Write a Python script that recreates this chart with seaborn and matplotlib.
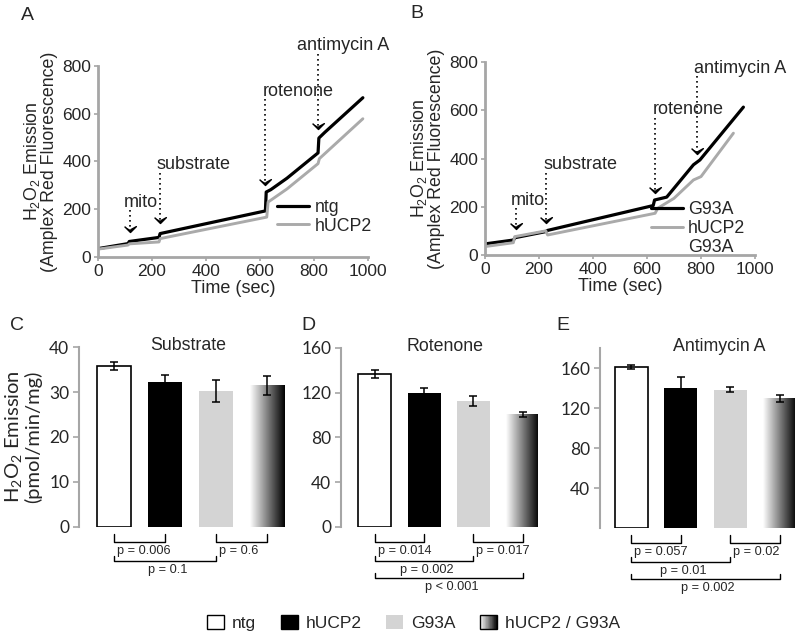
import numpy as np
import matplotlib
matplotlib.use("Agg")
import matplotlib.pyplot as plt
import seaborn as sns
from matplotlib.patches import Patch, Rectangle
from matplotlib.lines import Line2D
from matplotlib.legend_handler import HandlerBase
from matplotlib import transforms

# ---- panel A traces (time in sec, Amplex Red fluorescence) ----
a_time_ntg = [0, 111, 116, 226, 230, 620, 623, 640, 700, 815, 818, 840, 981]
a_ntg = [35, 56, 65, 82, 98, 193, 272, 282, 330, 436, 498, 522, 667]
a_time_ucp = [0, 111, 116, 226, 230, 625, 630, 700, 815, 820, 981]
a_ucp = [33, 50, 55, 63, 77, 167, 230, 285, 391, 412, 579]

# ---- panel B traces ----
b_time_g93a = [0, 105, 112, 225, 232, 623, 628, 673, 772, 796, 957]
b_g93a = [46, 62, 72, 97, 102, 205, 228, 240, 374, 394, 613]
b_time_ucp_g93a = [0, 105, 110, 225, 232, 630, 640, 700, 772, 800, 920]
b_ucp_g93a = [35, 51, 76, 100, 83, 173, 194, 235, 311, 325, 505]

# additions (label, time of addition, arrow tip level)
events = ["mito", "substrate", "rotenone", "antimycin A"]
a_event_time = [117, 228, 620, 815]
a_event_tip = [105, 142, 300, 537]
a_label_pos = [(159, 230), (353, 387), (743, 695), (907, 886)]
b_event_time = [114, 225, 631, 786]
b_event_tip = [107, 131, 256, 419]
b_label_pos = [(158, 228), (352, 374), (754, 602), (944, 775)]

# ---- bar panels C-E (pmol/min/mg) ----
groups = ["ntg", "hUCP2", "G93A", "hUCP2 / G93A"]
substrate_mean = [35.7, 32.3, 30.2, 31.4]
substrate_err = [0.9, 1.5, 2.4, 2.1]
rotenone_mean = [136.5, 119.5, 113.0, 100.5]
rotenone_err = [3.5, 5.0, 4.5, 2.5]
antimycin_mean = [161.5, 140.3, 138.5, 129.5]
antimycin_err = [2.0, 11.0, 2.3, 3.6]

substrate_p = [(0, 1, "p = 0.006"), (2, 3, "p = 0.6"), (0, 2, "p = 0.1")]
rotenone_p = [(0, 1, "p = 0.014"), (2, 3, "p = 0.017"), (0, 2, "p = 0.002"), (0, 3, "p < 0.001")]
antimycin_p = [(0, 1, "p = 0.057"), (2, 3, "p = 0.02"), (0, 2, "p = 0.01"), (0, 3, "p = 0.002")]

sns.set_theme(style="ticks")
plt.rcParams["font.family"] = ["Liberation Sans", "DejaVu Sans"]
plt.rcParams["mathtext.default"] = "regular"

SPINE = "#a6a6a6"
LIGHT = "#d4d4d4"
TRACE_GRAY = "#aaaaaa"

fig = plt.figure(figsize=(8, 6.38), dpi=100)

chevron = [(-1, 1), (0, 0), (1, 1), (0, 0.45)]


def line_panel(rect, t1, v1, t2, v2, lab1, lab2, ev_t, ev_tip, lab_pos, letter, letter_xy, extra_label=None, leg_anchor=(1.04, 0.08)):
    ax = fig.add_axes(rect)
    sns.lineplot(x=t1, y=v1, color="black", lw=2.3, sort=False, estimator=None, ax=ax, label=lab1)
    sns.lineplot(x=t2, y=v2, color=TRACE_GRAY, lw=2.1, sort=False, estimator=None, ax=ax, label=lab2)
    ax.set_xlim(0, 1000)
    ax.set_ylim(0, 800)
    ax.set_xticks(range(0, 1001, 200))
    ax.set_yticks(range(0, 801, 200))
    sns.despine(ax=ax)
    for s in ["left", "bottom"]:
        ax.spines[s].set_color(SPINE)
        ax.spines[s].set_linewidth(2)
    ax.tick_params(labelsize=12.5, color=SPINE, length=3, width=1.2, pad=2)
    ax.set_xlabel("Time (sec)", fontsize=13, labelpad=1)
    ax.set_ylabel("H$_2$O$_2$ Emission\n(Amplex Red Fluorescence)", fontsize=12.8, labelpad=3, linespacing=0.95)
    for name, et, tip, (tx, ty) in zip(events, ev_t, ev_tip, lab_pos):
        ax.text(tx, ty, name, ha="center", va="center", fontsize=13)
        ax.plot([et, et], [ty - 34, tip + 8], ls=(0, (1, 2)), color="black", lw=1.2, clip_on=False)
        ax.plot([et], [tip], marker=chevron, color="black", ms=8.5, clip_on=False, ls="none")
    handles, labels = ax.get_legend_handles_labels()
    if extra_label:
        handles.append(Line2D([], [], color="none"))
        labels.append(extra_label)
    ax.legend(handles, labels, loc="lower right", bbox_to_anchor=leg_anchor, frameon=False,
              fontsize=12.8, handlelength=1.8, handletextpad=0.3, labelspacing=0.1, borderaxespad=0)
    fig.text(letter_xy[0] / 800, 1 - letter_xy[1] / 638, letter, fontsize=14, ha="center", va="center")
    return ax


line_panel([0.1225, 0.5972, 0.3375, 0.2994], a_time_ntg, a_ntg, a_time_ucp, a_ucp, "ntg", "hUCP2",
           a_event_time, a_event_tip, a_label_pos, "A", (27, 15))
line_panel([0.60625, 0.6003, 0.3375, 0.3025], b_time_g93a, b_g93a, b_time_ucp_g93a, b_ucp_g93a, "G93A", "hUCP2",
           b_event_time, b_event_tip, b_label_pos, "B", (417, 14), extra_label="G93A", leg_anchor=(0.99, -0.04))


def bar_panel(rect, means, errs, ylim, yticks, xlim, title, title_x, pvals, letter, letter_xy, ylabel=None):
    ax = fig.add_axes(rect)
    sns.barplot(x=groups, y=means, hue=groups, palette=["white", "black", LIGHT, "white"],
                width=0.67, legend=False, ax=ax, errorbar=None, saturation=1)
    bars = ax.patches[:4]
    bars[0].set_edgecolor("black")
    bars[0].set_linewidth(1.2)
    for b in bars[1:]:
        b.set_edgecolor("none")
    g = bars[3]
    g.set_facecolor("none")
    grad = np.linspace(0, 1, 256).reshape(1, -1)
    ax.imshow(grad, cmap="gray_r", vmin=0, vmax=1, aspect="auto", zorder=g.get_zorder(),
              extent=(g.get_x(), g.get_x() + g.get_width(), 0, g.get_height()))
    xc = [b.get_x() + b.get_width() / 2 for b in bars]
    ax.errorbar(xc, means, yerr=errs, fmt="none", ecolor="black", elinewidth=1.1, capsize=3, capthick=1.1, zorder=5)
    ax.set_xlim(*xlim)
    ax.set_ylim(*ylim)
    ax.set_yticks(yticks)
    ax.set_xticks([])
    ax.set_xlabel("")
    sns.despine(ax=ax, bottom=True)
    ax.spines["left"].set_color(SPINE)
    ax.spines["left"].set_linewidth(1.5)
    ax.tick_params(axis="y", labelsize=12.5, color=SPINE, length=4, width=1.2, pad=3)
    for lbl in ax.get_yticklabels():
        lbl.set_family("Lato")
    if ylabel:
        ax.set_ylabel(ylabel, fontsize=14.5, family="Lato", labelpad=5, linespacing=1.0)
    else:
        ax.set_ylabel("")
    ax.text(title_x, 1.01, title, transform=ax.transAxes, ha="center", va="center", fontsize=12.8)

    # significance brackets below the bars, offsets in pixels
    h_px = rect[3] * 638
    tr = transforms.blended_transform_factory(ax.transData, ax.transAxes)
    levels = {(0, 1): 0, (2, 3): 0, (0, 2): 1, (0, 3): 2}
    line_px = [15, 34, 51]
    tick_px = [8, 5, 5]
    text_px = [24, 43, 60]
    for i, j, txt in pvals:
        lv = levels[(i, j)]
        y0 = -line_px[lv] / h_px
        y1 = -(line_px[lv] - tick_px[lv]) / h_px
        ax.plot([xc[i], xc[i], xc[j], xc[j]], [y1, y0, y0, y1], color="black", lw=1.0,
                transform=tr, clip_on=False)
        if lv == 0:
            ax.text(xc[i] + 0.06, -text_px[lv] / h_px, txt, transform=tr, ha="left", va="center", fontsize=9.2)
        else:
            ax.text((xc[i] + xc[j]) / 2 + 0.05, -text_px[lv] / h_px, txt, transform=tr, ha="center", va="center", fontsize=9.2)
    fig.text(letter_xy[0] / 800, 1 - letter_xy[1] / 638, letter, fontsize=14, ha="center", va="center")
    return ax


bar_panel([0.09875, 0.174, 0.2575, 0.2821], substrate_mean, substrate_err, (0, 40), [0, 10, 20, 30, 40],
          (-0.69, 3.35), "Substrate", 0.53, substrate_p, "C", (17, 325),
          ylabel="H$_2$O$_2$ Emission\n(pmol/min/mg)")
bar_panel([0.42625, 0.174, 0.24625, 0.2806], rotenone_mean, rotenone_err, (0, 160), [0, 40, 80, 120, 160],
          (-0.69, 3.31), "Rotenone", 0.53, rotenone_p, "D", (308, 325))
bar_panel([0.75, 0.1724, 0.24375, 0.2821], antimycin_mean, antimycin_err, (0, 180), [40, 80, 120, 160],
          (-0.63, 3.3), "Antimycin A", 0.61, antimycin_p, "E", (563, 325))


class GradientHandler(HandlerBase):
    def create_artists(self, legend, orig_handle, xdescent, ydescent, width, height, fontsize, trans):
        arts = []
        n = 30
        for i in range(n):
            shade = 1 - i / (n - 1)
            arts.append(Rectangle((-xdescent + i * width / n, -ydescent), width / n * 1.1, height,
                                  facecolor=str(shade), edgecolor="none", transform=trans))
        arts.append(Rectangle((-xdescent, -ydescent), width, height, facecolor="none",
                              edgecolor="black", lw=1.0, transform=trans))
        return arts


grad_handle = Patch(facecolor="gray")
leg_handles = [Patch(facecolor="white", edgecolor="black", lw=1.0),
               Patch(facecolor="black", edgecolor="black"),
               Patch(facecolor=LIGHT, edgecolor="none"),
               grad_handle]
fig.legend(leg_handles, groups, handler_map={grad_handle: GradientHandler()}, loc="center",
           bbox_to_anchor=(0.517, 0.0235), ncol=4, frameon=False, fontsize=12.5,
           handlelength=1.0, handleheight=0.85, handletextpad=0.45, columnspacing=1.4)

fig.savefig("out.png", dpi=100)
